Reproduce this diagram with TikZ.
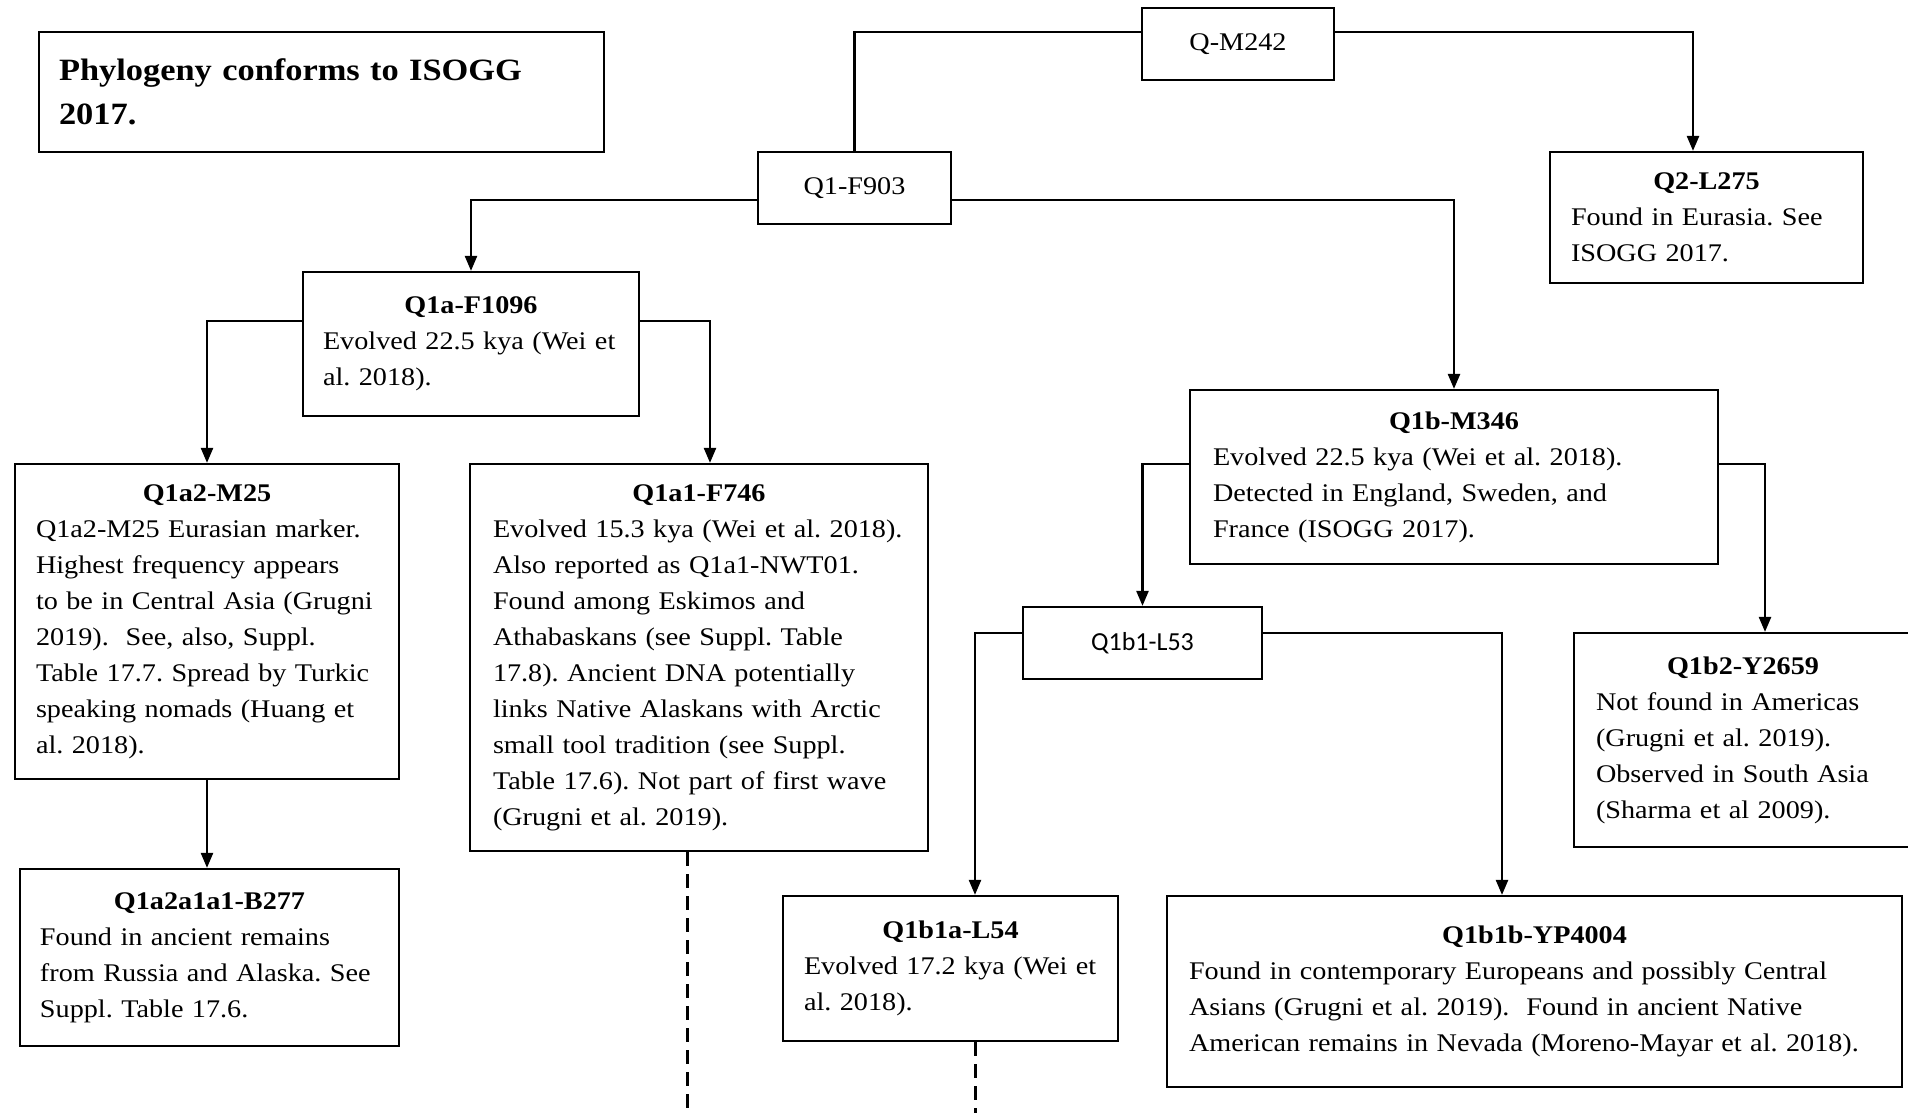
\documentclass[tikz,border=0pt]{standalone}
\usepackage{fontspec}
\setmainfont[FakeStretch=1.11]{Liberation Serif}
\newfontfamily\calibri{Carlito}
\usetikzlibrary{arrows.meta}

\newcommand{\hd}[1]{\makebox[\linewidth]{\bfseries #1}\\}

\tikzset{
  box/.style={draw, line width=1.1pt, inner sep=0pt, align=left,
    font=\fontsize{12.7}{18}\selectfont},
  link/.style={line width=1.2pt, -{Triangle[length=7.5pt,width=6pt]}},
  plain/.style={line width=1.2pt},
  cut/.style={line width=1.5pt, dash pattern=on 7pt off 4pt}
}

\begin{document}
\frenchspacing
\begin{tikzpicture}[x=0.5pt, y=-0.5pt]
  \useasboundingbox (0,0) rectangle (1908,1113);

  \node[box, minimum width=282.5pt, minimum height=60pt, text width=262.5pt,
    font=\fontsize{15.5}{22}\selectfont\bfseries] (title) at (321.5,92)
    {Phylogeny conforms to ISOGG\\2017.};

  \node[box, minimum width=96pt, minimum height=36pt] (qm242) at (1238,44) {Q-M242};
  \node[box, minimum width=96.5pt, minimum height=36pt] (q1) at (854.5,188) {Q1-F903};
  \node[box, minimum width=156.5pt, minimum height=65.5pt, text width=135.5pt] (q2) at (1706.5,217.5)
    {\hd{Q2-L275}Found in Eurasia. See\\ISOGG 2017.};

  \node[box, minimum width=168pt, minimum height=72pt, text width=148pt] (q1a) at (471,344)
    {\hd{Q1a-F1096}Evolved 22.5 kya (Wei et\\al. 2018).};
  \node[box, minimum width=264pt, minimum height=87pt, text width=241pt] (q1b) at (1454,477)
    {\hd{Q1b-M346}Evolved 22.5 kya (Wei et al. 2018).\\Detected in England, Sweden, and\\France (ISOGG 2017).};

  \node[box, minimum width=192pt, minimum height=157.5pt, text width=171pt] (q1a2) at (207,621.5)
    {\hd{Q1a2-M25}Q1a2-M25 Eurasian marker.\\Highest frequency appears\\to be in Central Asia (Grugni\\2019).\ \ See, also, Suppl.\\Table 17.7. Spread by Turkic\\speaking nomads (Huang et\\al. 2018).};
  \node[box, minimum width=229pt, minimum height=193.5pt, text width=206pt] (q1a1) at (699,657.5)
    {\hd{Q1a1-F746}Evolved 15.3 kya (Wei et al. 2018).\\Also reported as Q1a1-NWT01.\\Found among Eskimos and\\Athabaskans (see Suppl. Table\\17.8). Ancient DNA potentially\\links Native Alaskans with Arctic\\small tool tradition (see Suppl.\\Table 17.6). Not part of first wave\\(Grugni et al. 2019).};
  \node[box, minimum width=189.5pt, minimum height=88.5pt, text width=169.5pt] (q1a2a) at (209.5,957.5)
    {\hd{Q1a2a1a1-B277}Found in ancient remains\\from Russia and Alaska. See\\Suppl. Table 17.6.};

  \node[box, minimum width=119.5pt, minimum height=36pt, font=\calibri\fontsize{13}{16}\selectfont] (q1b1) at (1142.5,643) {Q1b1-L53};
  \node[box, minimum width=169pt, minimum height=107pt, text width=147pt] (q1b2) at (1743,740)
    {\hd{Q1b2-Y2659}Not found in Americas\\(Grugni et al. 2019).\\Observed in South Asia\\(Sharma et al 2009).};
  \node[box, minimum width=167.5pt, minimum height=72.5pt, text width=146.5pt] (q1b1a) at (950.5,968.5)
    {\hd{Q1b1a-L54}Evolved 17.2 kya (Wei et\\al. 2018).};
  \node[box, minimum width=367.5pt, minimum height=95.5pt, text width=345.5pt] (q1b1b) at (1534.5,991.5)
    {\hd{Q1b1b-YP4004}Found in contemporary Europeans and possibly Central\\Asians (Grugni et al. 2019).\ \ Found in ancient Native\\American remains in Nevada (Moreno-Mayar et al. 2018).};

  % open ends at the bottom
  \coordinate (end1) at (687,1113);
  \coordinate (end2) at (975,1113);

  \draw[plain] ([yshift=6pt]qm242.west) -| (q1.north);
  \draw[link] ([yshift=6pt]qm242.east) -| ([xshift=-6.75pt]q2.north);
  \draw[link] ([yshift=-6pt]q1.west) -| (q1a.north);
  \draw[link] ([yshift=-6pt]q1.east) -| (q1b.north);
  \draw[link] ([yshift=11.5pt]q1a.west) -| (q1a2.north);
  \draw[link] ([yshift=11.5pt]q1a.east) -| ([xshift=5.5pt]q1a1.north);
  \draw[link] (q1a2.south) -- (q1a2.south |- q1a2a.north);
  \draw[link] ([yshift=6.5pt]q1b.west) -| (q1b1.north);
  \draw[link] ([yshift=6.5pt]q1b.east) -| ([xshift=11pt]q1b2.north);
  \draw[link] ([yshift=5pt]q1b1.west) -| ([xshift=12.25pt]q1b1a.north);
  \draw[link] ([yshift=5pt]q1b1.east) -| ([xshift=-16.25pt]q1b1b.north);
  \draw[cut] (q1a1.south -| end1) -- (end1);
  \draw[cut] (q1b1a.south -| end2) -- (end2);
\end{tikzpicture}
\end{document}
